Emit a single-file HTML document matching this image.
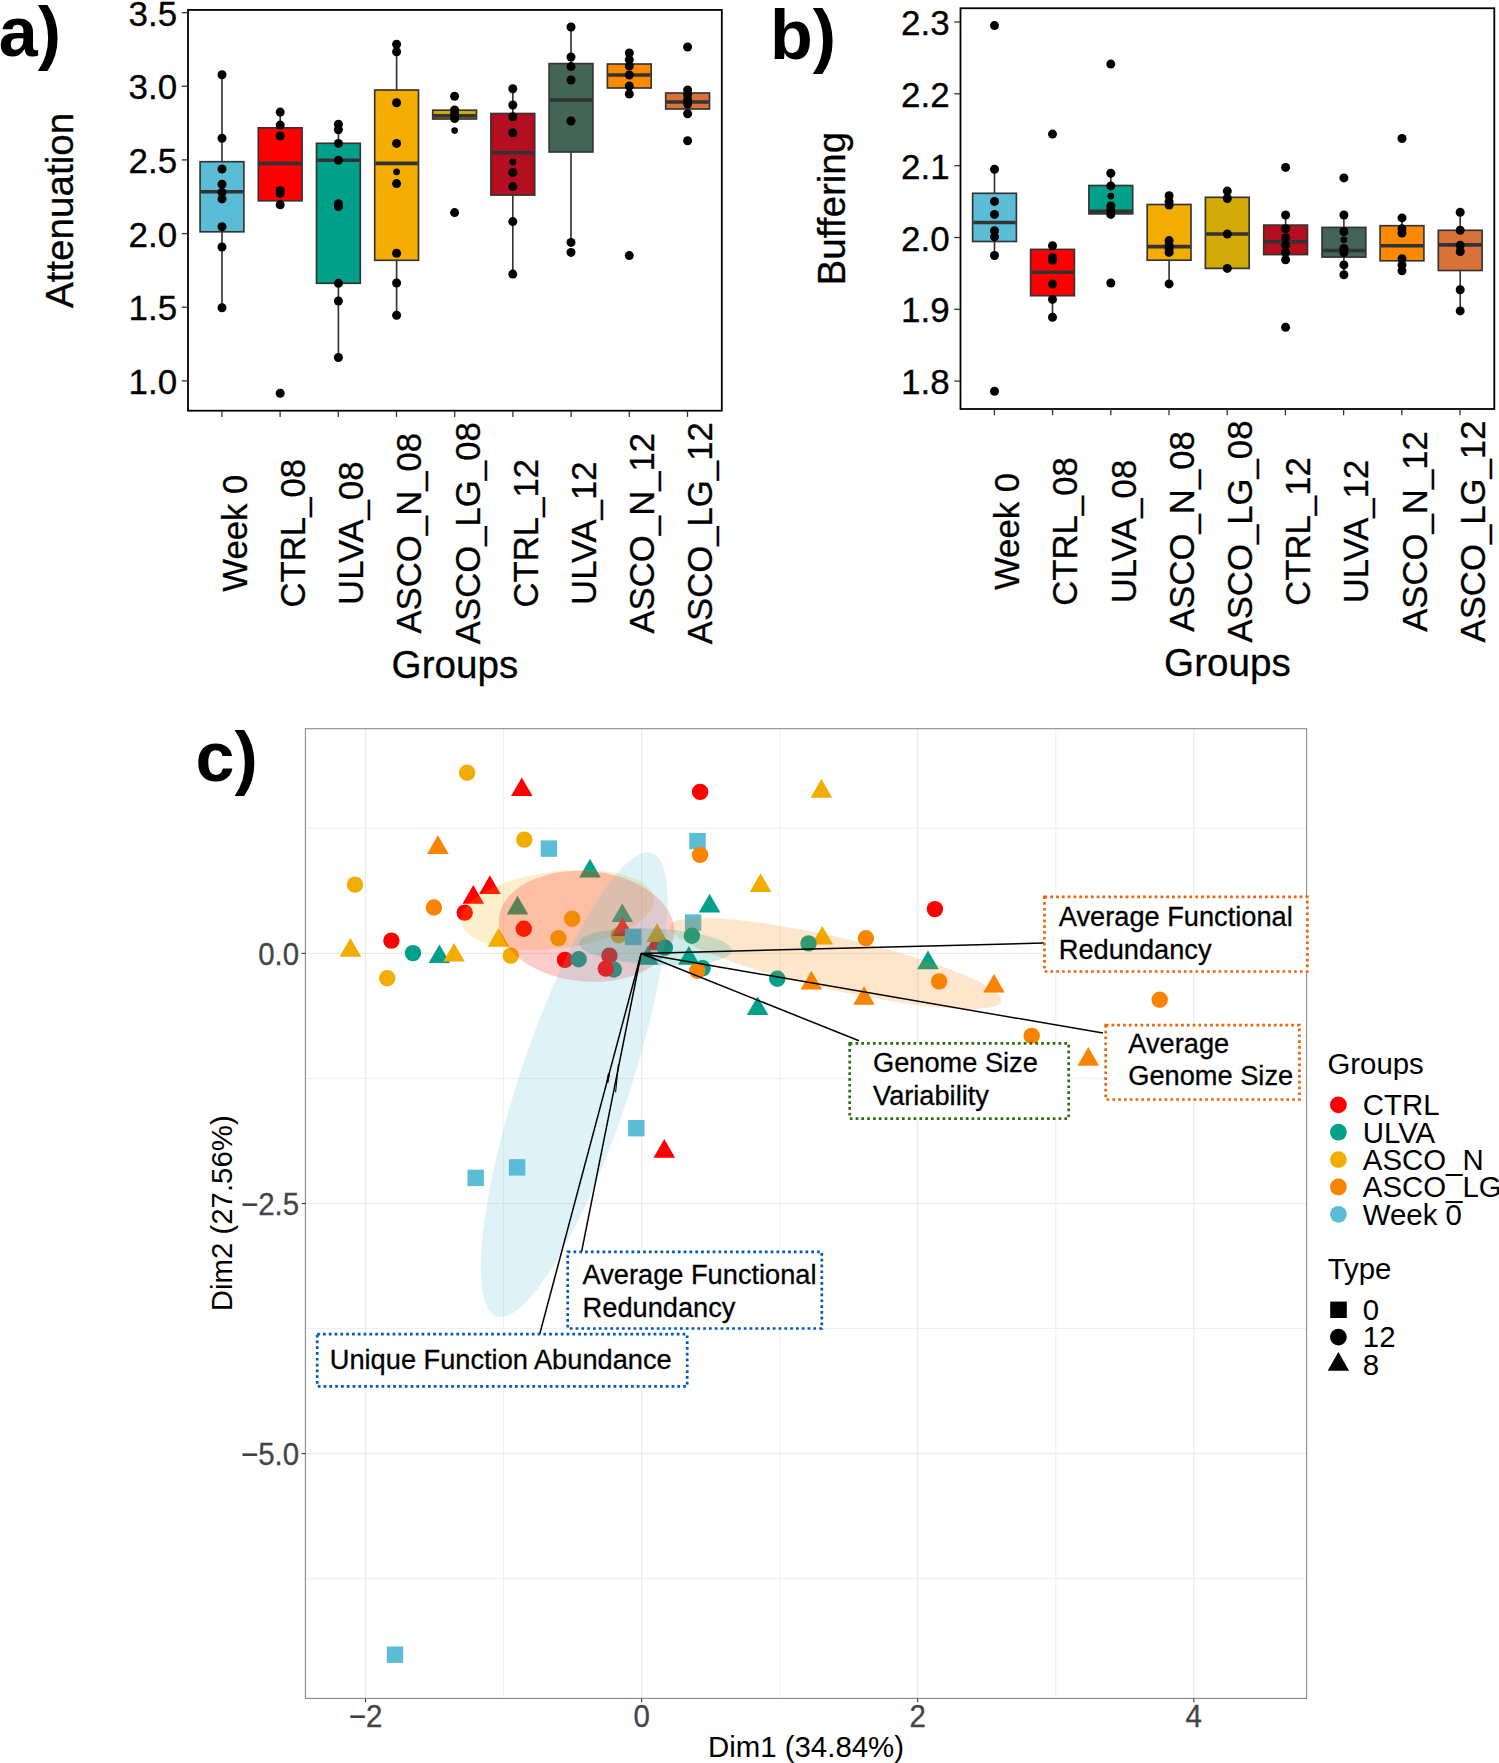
<!DOCTYPE html><html><head><meta charset="utf-8"><style>html,body{margin:0;padding:0;background:#fff;}svg{display:block;}text{font-family:"Liberation Sans", sans-serif;}</style></head><body>
<svg width="1499" height="1763" viewBox="0 0 1499 1763" font-family='"Liberation Sans", sans-serif'>
<rect width="1499" height="1763" fill="#fff"/>
<line x1="222.0" y1="161.7" x2="222.0" y2="74.7" stroke="#333333" stroke-width="1.65"/>
<line x1="222.0" y1="231.8" x2="222.0" y2="307.8" stroke="#333333" stroke-width="1.65"/>
<rect x="200.1" y="161.7" width="43.8" height="70.1" fill="#5BBCD6" stroke="#333333" stroke-width="1.65"/>
<line x1="200.8" y1="191.8" x2="243.2" y2="191.8" stroke="#333333" stroke-width="3.6"/>
<circle cx="222.0" cy="74.7" r="4.5" fill="#000"/>
<circle cx="222.0" cy="138.2" r="4.5" fill="#000"/>
<circle cx="222.0" cy="169.0" r="4.5" fill="#000"/>
<circle cx="222.0" cy="184.3" r="4.5" fill="#000"/>
<circle cx="222.0" cy="192.4" r="4.5" fill="#000"/>
<circle cx="222.0" cy="198.9" r="4.5" fill="#000"/>
<circle cx="222.0" cy="226.7" r="4.5" fill="#000"/>
<circle cx="222.0" cy="247.0" r="4.5" fill="#000"/>
<circle cx="222.0" cy="307.8" r="4.5" fill="#000"/>
<line x1="280.2" y1="127.8" x2="280.2" y2="112.1" stroke="#333333" stroke-width="1.65"/>
<line x1="280.2" y1="200.8" x2="280.2" y2="204.7" stroke="#333333" stroke-width="1.65"/>
<rect x="258.3" y="127.8" width="43.8" height="73.0" fill="#FF0000" stroke="#333333" stroke-width="1.65"/>
<line x1="259.0" y1="163.4" x2="301.4" y2="163.4" stroke="#333333" stroke-width="3.6"/>
<circle cx="280.2" cy="112.1" r="4.5" fill="#000"/>
<circle cx="280.2" cy="125.1" r="4.5" fill="#000"/>
<circle cx="280.2" cy="136.0" r="4.5" fill="#000"/>
<circle cx="280.2" cy="190.5" r="4.5" fill="#000"/>
<circle cx="280.2" cy="193.3" r="4.5" fill="#000"/>
<circle cx="280.2" cy="204.7" r="4.5" fill="#000"/>
<circle cx="280.2" cy="393.3" r="4.5" fill="#000"/>
<line x1="338.4" y1="143.3" x2="338.4" y2="124.2" stroke="#333333" stroke-width="1.65"/>
<line x1="338.4" y1="283.3" x2="338.4" y2="357.5" stroke="#333333" stroke-width="1.65"/>
<rect x="316.5" y="143.3" width="43.8" height="140.0" fill="#00A08A" stroke="#333333" stroke-width="1.65"/>
<line x1="317.2" y1="160.3" x2="359.6" y2="160.3" stroke="#333333" stroke-width="3.6"/>
<circle cx="338.4" cy="124.2" r="4.5" fill="#000"/>
<circle cx="338.4" cy="129.8" r="4.5" fill="#000"/>
<circle cx="338.4" cy="143.4" r="4.5" fill="#000"/>
<circle cx="338.4" cy="160.3" r="4.5" fill="#000"/>
<circle cx="338.4" cy="203.7" r="4.5" fill="#000"/>
<circle cx="338.4" cy="206.5" r="4.5" fill="#000"/>
<circle cx="338.4" cy="283.3" r="4.5" fill="#000"/>
<circle cx="338.4" cy="301.0" r="4.5" fill="#000"/>
<circle cx="338.4" cy="357.5" r="4.5" fill="#000"/>
<line x1="396.6" y1="90.0" x2="396.6" y2="44.3" stroke="#333333" stroke-width="1.65"/>
<line x1="396.6" y1="260.3" x2="396.6" y2="315.2" stroke="#333333" stroke-width="1.65"/>
<rect x="374.7" y="90.0" width="43.8" height="170.3" fill="#F2AD00" stroke="#333333" stroke-width="1.65"/>
<line x1="375.4" y1="163.4" x2="417.8" y2="163.4" stroke="#333333" stroke-width="3.6"/>
<circle cx="396.6" cy="44.3" r="4.5" fill="#000"/>
<circle cx="396.6" cy="51.7" r="4.5" fill="#000"/>
<circle cx="396.6" cy="102.7" r="4.5" fill="#000"/>
<circle cx="396.6" cy="143.4" r="4.5" fill="#000"/>
<circle cx="396.6" cy="171.8" r="3.4" fill="#000"/>
<circle cx="396.6" cy="183.6" r="4.5" fill="#000"/>
<circle cx="396.6" cy="253.2" r="4.5" fill="#000"/>
<circle cx="396.6" cy="283.0" r="4.5" fill="#000"/>
<circle cx="396.6" cy="315.2" r="4.5" fill="#000"/>
<rect x="432.7" y="110.2" width="43.8" height="8.8" fill="#D1AA07" stroke="#333333" stroke-width="1.65"/>
<line x1="433.4" y1="115.9" x2="475.8" y2="115.9" stroke="#333333" stroke-width="3.6"/>
<circle cx="454.6" cy="96.3" r="4.5" fill="#000"/>
<circle cx="454.6" cy="110.0" r="4.5" fill="#000"/>
<circle cx="454.6" cy="114.0" r="4.5" fill="#000"/>
<circle cx="454.6" cy="118.5" r="4.5" fill="#000"/>
<circle cx="454.6" cy="130.6" r="3.3" fill="#000"/>
<circle cx="454.6" cy="212.6" r="4.5" fill="#000"/>
<line x1="512.8" y1="113.5" x2="512.8" y2="88.7" stroke="#333333" stroke-width="1.65"/>
<line x1="512.8" y1="195.1" x2="512.8" y2="274.1" stroke="#333333" stroke-width="1.65"/>
<rect x="490.9" y="113.5" width="43.8" height="81.6" fill="#B40F20" stroke="#333333" stroke-width="1.65"/>
<line x1="491.6" y1="152.7" x2="534.0" y2="152.7" stroke="#333333" stroke-width="3.6"/>
<circle cx="512.8" cy="88.7" r="4.5" fill="#000"/>
<circle cx="512.8" cy="105.0" r="4.5" fill="#000"/>
<circle cx="512.8" cy="116.7" r="4.5" fill="#000"/>
<circle cx="512.8" cy="132.7" r="4.5" fill="#000"/>
<circle cx="512.8" cy="162.0" r="3.4" fill="#000"/>
<circle cx="512.8" cy="172.5" r="4.5" fill="#000"/>
<circle cx="512.8" cy="186.6" r="4.5" fill="#000"/>
<circle cx="512.8" cy="221.6" r="4.5" fill="#000"/>
<circle cx="512.8" cy="274.1" r="4.5" fill="#000"/>
<line x1="571.0" y1="63.6" x2="571.0" y2="27.0" stroke="#333333" stroke-width="1.65"/>
<line x1="571.0" y1="152.0" x2="571.0" y2="242.4" stroke="#333333" stroke-width="1.65"/>
<rect x="549.1" y="63.6" width="43.8" height="88.4" fill="#446455" stroke="#333333" stroke-width="1.65"/>
<line x1="549.8" y1="100.0" x2="592.2" y2="100.0" stroke="#333333" stroke-width="3.6"/>
<circle cx="571.0" cy="27.0" r="4.5" fill="#000"/>
<circle cx="571.0" cy="57.0" r="4.5" fill="#000"/>
<circle cx="571.0" cy="66.6" r="4.5" fill="#000"/>
<circle cx="571.0" cy="80.0" r="4.5" fill="#000"/>
<circle cx="571.0" cy="121.0" r="4.5" fill="#000"/>
<circle cx="571.0" cy="242.4" r="4.5" fill="#000"/>
<circle cx="571.0" cy="252.4" r="4.5" fill="#000"/>
<line x1="629.3" y1="64.0" x2="629.3" y2="53.0" stroke="#333333" stroke-width="1.65"/>
<line x1="629.3" y1="88.0" x2="629.3" y2="94.0" stroke="#333333" stroke-width="1.65"/>
<rect x="607.4" y="64.0" width="43.8" height="24.0" fill="#FB8A00" stroke="#333333" stroke-width="1.65"/>
<line x1="608.1" y1="75.0" x2="650.5" y2="75.0" stroke="#333333" stroke-width="3.6"/>
<circle cx="629.3" cy="53.0" r="4.5" fill="#000"/>
<circle cx="629.3" cy="59.6" r="4.5" fill="#000"/>
<circle cx="629.3" cy="66.0" r="4.5" fill="#000"/>
<circle cx="629.3" cy="75.0" r="4.5" fill="#000"/>
<circle cx="629.3" cy="86.0" r="4.5" fill="#000"/>
<circle cx="629.3" cy="94.0" r="4.5" fill="#000"/>
<circle cx="629.3" cy="255.6" r="4.5" fill="#000"/>
<line x1="687.6" y1="93.0" x2="687.6" y2="90.0" stroke="#333333" stroke-width="1.65"/>
<line x1="687.6" y1="109.0" x2="687.6" y2="113.7" stroke="#333333" stroke-width="1.65"/>
<rect x="665.7" y="93.0" width="43.8" height="16.0" fill="#D97238" stroke="#333333" stroke-width="1.65"/>
<line x1="666.4" y1="102.0" x2="708.8" y2="102.0" stroke="#333333" stroke-width="3.6"/>
<circle cx="687.6" cy="47.0" r="4.5" fill="#000"/>
<circle cx="687.6" cy="90.0" r="4.5" fill="#000"/>
<circle cx="687.6" cy="95.0" r="4.5" fill="#000"/>
<circle cx="687.6" cy="100.0" r="4.5" fill="#000"/>
<circle cx="687.6" cy="104.0" r="4.5" fill="#000"/>
<circle cx="687.6" cy="113.7" r="4.5" fill="#000"/>
<circle cx="687.6" cy="140.7" r="4.5" fill="#000"/>
<rect x="188.0" y="9.95" width="533.80" height="400.75" fill="none" stroke="#000" stroke-width="1.8"/>
<line x1="181.8" y1="12.7" x2="188.0" y2="12.7" stroke="#333" stroke-width="1.3"/>
<text transform="translate(177.20,25.80) scale(0.9850,1)" font-size="35.5" text-anchor="end" stroke="#000" stroke-width="0.3">3.5</text>
<line x1="181.8" y1="86.3" x2="188.0" y2="86.3" stroke="#333" stroke-width="1.3"/>
<text transform="translate(177.20,99.40) scale(0.9850,1)" font-size="35.5" text-anchor="end" stroke="#000" stroke-width="0.3">3.0</text>
<line x1="181.8" y1="159.9" x2="188.0" y2="159.9" stroke="#333" stroke-width="1.3"/>
<text transform="translate(177.20,173.00) scale(0.9850,1)" font-size="35.5" text-anchor="end" stroke="#000" stroke-width="0.3">2.5</text>
<line x1="181.8" y1="233.6" x2="188.0" y2="233.6" stroke="#333" stroke-width="1.3"/>
<text transform="translate(177.20,246.70) scale(0.9850,1)" font-size="35.5" text-anchor="end" stroke="#000" stroke-width="0.3">2.0</text>
<line x1="181.8" y1="307.2" x2="188.0" y2="307.2" stroke="#333" stroke-width="1.3"/>
<text transform="translate(177.20,320.30) scale(0.9850,1)" font-size="35.5" text-anchor="end" stroke="#000" stroke-width="0.3">1.5</text>
<line x1="181.8" y1="380.9" x2="188.0" y2="380.9" stroke="#333" stroke-width="1.3"/>
<text transform="translate(177.20,394.00) scale(0.9850,1)" font-size="35.5" text-anchor="end" stroke="#000" stroke-width="0.3">1.0</text>
<line x1="221.9" y1="410.7" x2="221.9" y2="416.9" stroke="#333" stroke-width="1.3"/>
<text transform="translate(246.70,533.20) rotate(-90) scale(0.9700,1)" font-size="35.8" text-anchor="middle" stroke="#000" stroke-width="0.3">Week 0</text>
<line x1="280.1" y1="410.7" x2="280.1" y2="416.9" stroke="#333" stroke-width="1.3"/>
<text transform="translate(304.90,533.20) rotate(-90) scale(0.9700,1)" font-size="35.8" text-anchor="middle" stroke="#000" stroke-width="0.3">CTRL_08</text>
<line x1="338.3" y1="410.7" x2="338.3" y2="416.9" stroke="#333" stroke-width="1.3"/>
<text transform="translate(363.10,533.20) rotate(-90) scale(0.9700,1)" font-size="35.8" text-anchor="middle" stroke="#000" stroke-width="0.3">ULVA_08</text>
<line x1="396.5" y1="410.7" x2="396.5" y2="416.9" stroke="#333" stroke-width="1.3"/>
<text transform="translate(421.30,533.20) rotate(-90) scale(0.9700,1)" font-size="35.8" text-anchor="middle" stroke="#000" stroke-width="0.3">ASCO_N_08</text>
<line x1="454.7" y1="410.7" x2="454.7" y2="416.9" stroke="#333" stroke-width="1.3"/>
<text transform="translate(479.50,533.20) rotate(-90) scale(0.9700,1)" font-size="35.8" text-anchor="middle" stroke="#000" stroke-width="0.3">ASCO_LG_08</text>
<line x1="512.9" y1="410.7" x2="512.9" y2="416.9" stroke="#333" stroke-width="1.3"/>
<text transform="translate(537.70,533.20) rotate(-90) scale(0.9700,1)" font-size="35.8" text-anchor="middle" stroke="#000" stroke-width="0.3">CTRL_12</text>
<line x1="571.1" y1="410.7" x2="571.1" y2="416.9" stroke="#333" stroke-width="1.3"/>
<text transform="translate(595.90,533.20) rotate(-90) scale(0.9700,1)" font-size="35.8" text-anchor="middle" stroke="#000" stroke-width="0.3">ULVA_12</text>
<line x1="629.3" y1="410.7" x2="629.3" y2="416.9" stroke="#333" stroke-width="1.3"/>
<text transform="translate(654.10,533.20) rotate(-90) scale(0.9700,1)" font-size="35.8" text-anchor="middle" stroke="#000" stroke-width="0.3">ASCO_N_12</text>
<line x1="687.5" y1="410.7" x2="687.5" y2="416.9" stroke="#333" stroke-width="1.3"/>
<text transform="translate(712.30,533.20) rotate(-90) scale(0.9700,1)" font-size="35.8" text-anchor="middle" stroke="#000" stroke-width="0.3">ASCO_LG_12</text>
<text transform="translate(454.90,678.00) scale(0.9930,1)" font-size="38.9" text-anchor="middle" stroke="#000" stroke-width="0.3">Groups</text>
<text transform="translate(72.60,210.40) rotate(-90) scale(0.9930,1)" font-size="38.9" text-anchor="middle" stroke="#000" stroke-width="0.3">Attenuation</text>
<text x="-1.3" y="55.6" font-size="70" font-weight="bold">a)</text>
<line x1="994.5" y1="193.3" x2="994.5" y2="169.2" stroke="#333333" stroke-width="1.65"/>
<line x1="994.5" y1="241.5" x2="994.5" y2="255.5" stroke="#333333" stroke-width="1.65"/>
<rect x="972.6" y="193.3" width="43.8" height="48.2" fill="#5BBCD6" stroke="#333333" stroke-width="1.65"/>
<line x1="973.3" y1="222.5" x2="1015.7" y2="222.5" stroke="#333333" stroke-width="3.6"/>
<circle cx="994.5" cy="25.6" r="4.5" fill="#000"/>
<circle cx="994.5" cy="169.2" r="4.5" fill="#000"/>
<circle cx="994.5" cy="201.4" r="4.5" fill="#000"/>
<circle cx="994.5" cy="214.4" r="4.5" fill="#000"/>
<circle cx="994.5" cy="230.7" r="4.5" fill="#000"/>
<circle cx="994.5" cy="236.9" r="4.5" fill="#000"/>
<circle cx="994.5" cy="255.5" r="4.5" fill="#000"/>
<circle cx="994.5" cy="391.3" r="4.5" fill="#000"/>
<line x1="1052.5" y1="249.4" x2="1052.5" y2="245.8" stroke="#333333" stroke-width="1.65"/>
<line x1="1052.5" y1="295.7" x2="1052.5" y2="317.2" stroke="#333333" stroke-width="1.65"/>
<rect x="1030.6" y="249.4" width="43.8" height="46.3" fill="#FF0000" stroke="#333333" stroke-width="1.65"/>
<line x1="1031.3" y1="272.3" x2="1073.7" y2="272.3" stroke="#333333" stroke-width="3.6"/>
<circle cx="1052.5" cy="134.1" r="4.5" fill="#000"/>
<circle cx="1052.5" cy="245.8" r="4.5" fill="#000"/>
<circle cx="1052.5" cy="257.4" r="4.5" fill="#000"/>
<circle cx="1052.5" cy="260.2" r="4.5" fill="#000"/>
<circle cx="1052.5" cy="284.1" r="4.5" fill="#000"/>
<circle cx="1052.5" cy="299.4" r="4.5" fill="#000"/>
<circle cx="1052.5" cy="317.2" r="4.5" fill="#000"/>
<line x1="1110.8" y1="185.5" x2="1110.8" y2="173.3" stroke="#333333" stroke-width="1.65"/>
<line x1="1110.8" y1="213.9" x2="1110.8" y2="214.4" stroke="#333333" stroke-width="1.65"/>
<rect x="1088.9" y="185.5" width="43.8" height="28.4" fill="#00A08A" stroke="#333333" stroke-width="1.65"/>
<line x1="1089.6" y1="211.3" x2="1132.0" y2="211.3" stroke="#333333" stroke-width="3.6"/>
<circle cx="1110.8" cy="64.1" r="4.5" fill="#000"/>
<circle cx="1110.8" cy="173.3" r="4.5" fill="#000"/>
<circle cx="1110.8" cy="185.9" r="4.5" fill="#000"/>
<circle cx="1110.8" cy="196.1" r="3.4" fill="#000"/>
<circle cx="1110.8" cy="206.0" r="4.5" fill="#000"/>
<circle cx="1110.8" cy="209.8" r="4.5" fill="#000"/>
<circle cx="1110.8" cy="214.4" r="4.5" fill="#000"/>
<circle cx="1110.8" cy="283.0" r="4.5" fill="#000"/>
<line x1="1169.1" y1="204.5" x2="1169.1" y2="195.8" stroke="#333333" stroke-width="1.65"/>
<line x1="1169.1" y1="260.2" x2="1169.1" y2="283.9" stroke="#333333" stroke-width="1.65"/>
<rect x="1147.2" y="204.5" width="43.8" height="55.7" fill="#F2AD00" stroke="#333333" stroke-width="1.65"/>
<line x1="1147.9" y1="246.6" x2="1190.3" y2="246.6" stroke="#333333" stroke-width="3.6"/>
<circle cx="1169.1" cy="195.8" r="4.5" fill="#000"/>
<circle cx="1169.1" cy="201.4" r="4.5" fill="#000"/>
<circle cx="1169.1" cy="205.1" r="4.5" fill="#000"/>
<circle cx="1169.1" cy="240.6" r="4.5" fill="#000"/>
<circle cx="1169.1" cy="245.3" r="4.5" fill="#000"/>
<circle cx="1169.1" cy="249.0" r="4.5" fill="#000"/>
<circle cx="1169.1" cy="252.4" r="4.5" fill="#000"/>
<circle cx="1169.1" cy="283.9" r="4.5" fill="#000"/>
<line x1="1227.3" y1="197.3" x2="1227.3" y2="191.1" stroke="#333333" stroke-width="1.65"/>
<line x1="1227.3" y1="268.4" x2="1227.3" y2="268.4" stroke="#333333" stroke-width="1.65"/>
<rect x="1205.4" y="197.3" width="43.8" height="71.1" fill="#D1AA07" stroke="#333333" stroke-width="1.65"/>
<line x1="1206.1" y1="234.0" x2="1248.5" y2="234.0" stroke="#333333" stroke-width="3.6"/>
<circle cx="1227.3" cy="191.1" r="4.5" fill="#000"/>
<circle cx="1227.3" cy="198.5" r="4.5" fill="#000"/>
<circle cx="1227.3" cy="234.0" r="4.5" fill="#000"/>
<circle cx="1227.3" cy="268.4" r="4.5" fill="#000"/>
<line x1="1285.6" y1="225.1" x2="1285.6" y2="215.0" stroke="#333333" stroke-width="1.65"/>
<line x1="1285.6" y1="254.6" x2="1285.6" y2="259.8" stroke="#333333" stroke-width="1.65"/>
<rect x="1263.7" y="225.1" width="43.8" height="29.5" fill="#B40F20" stroke="#333333" stroke-width="1.65"/>
<line x1="1264.4" y1="241.8" x2="1306.8" y2="241.8" stroke="#333333" stroke-width="3.6"/>
<circle cx="1285.6" cy="167.4" r="4.5" fill="#000"/>
<circle cx="1285.6" cy="215.0" r="4.5" fill="#000"/>
<circle cx="1285.6" cy="228.8" r="4.5" fill="#000"/>
<circle cx="1285.6" cy="237.7" r="4.5" fill="#000"/>
<circle cx="1285.6" cy="245.3" r="4.5" fill="#000"/>
<circle cx="1285.6" cy="252.5" r="4.5" fill="#000"/>
<circle cx="1285.6" cy="259.8" r="4.5" fill="#000"/>
<circle cx="1285.6" cy="327.2" r="4.5" fill="#000"/>
<line x1="1343.9" y1="227.4" x2="1343.9" y2="215.0" stroke="#333333" stroke-width="1.65"/>
<line x1="1343.9" y1="257.1" x2="1343.9" y2="274.8" stroke="#333333" stroke-width="1.65"/>
<rect x="1322.0" y="227.4" width="43.8" height="29.7" fill="#446455" stroke="#333333" stroke-width="1.65"/>
<line x1="1322.7" y1="250.5" x2="1365.1" y2="250.5" stroke="#333333" stroke-width="3.6"/>
<circle cx="1343.9" cy="177.9" r="4.5" fill="#000"/>
<circle cx="1343.9" cy="215.0" r="4.5" fill="#000"/>
<circle cx="1343.9" cy="231.5" r="4.5" fill="#000"/>
<circle cx="1343.9" cy="239.8" r="3.4" fill="#000"/>
<circle cx="1343.9" cy="248.4" r="4.5" fill="#000"/>
<circle cx="1343.9" cy="252.5" r="4.5" fill="#000"/>
<circle cx="1343.9" cy="264.9" r="4.5" fill="#000"/>
<circle cx="1343.9" cy="274.8" r="4.5" fill="#000"/>
<line x1="1402.0" y1="225.7" x2="1402.0" y2="217.9" stroke="#333333" stroke-width="1.65"/>
<line x1="1402.0" y1="260.8" x2="1402.0" y2="270.7" stroke="#333333" stroke-width="1.65"/>
<rect x="1380.1" y="225.7" width="43.8" height="35.1" fill="#FB8A00" stroke="#333333" stroke-width="1.65"/>
<line x1="1380.8" y1="245.7" x2="1423.2" y2="245.7" stroke="#333333" stroke-width="3.6"/>
<circle cx="1402.0" cy="138.5" r="4.5" fill="#000"/>
<circle cx="1402.0" cy="217.9" r="4.5" fill="#000"/>
<circle cx="1402.0" cy="228.8" r="4.5" fill="#000"/>
<circle cx="1402.0" cy="233.0" r="4.5" fill="#000"/>
<circle cx="1402.0" cy="258.7" r="4.5" fill="#000"/>
<circle cx="1402.0" cy="264.9" r="4.5" fill="#000"/>
<circle cx="1402.0" cy="270.7" r="4.5" fill="#000"/>
<line x1="1460.2" y1="230.3" x2="1460.2" y2="212.3" stroke="#333333" stroke-width="1.65"/>
<line x1="1460.2" y1="270.5" x2="1460.2" y2="310.9" stroke="#333333" stroke-width="1.65"/>
<rect x="1438.3" y="230.3" width="43.8" height="40.2" fill="#D97238" stroke="#333333" stroke-width="1.65"/>
<line x1="1439.0" y1="244.9" x2="1481.4" y2="244.9" stroke="#333333" stroke-width="3.6"/>
<circle cx="1460.2" cy="212.3" r="4.5" fill="#000"/>
<circle cx="1460.2" cy="230.3" r="4.5" fill="#000"/>
<circle cx="1460.2" cy="245.3" r="4.5" fill="#000"/>
<circle cx="1460.2" cy="251.5" r="4.5" fill="#000"/>
<circle cx="1460.2" cy="289.7" r="4.5" fill="#000"/>
<circle cx="1460.2" cy="310.9" r="4.5" fill="#000"/>
<rect x="960.5" y="8.25" width="533.80" height="400.75" fill="none" stroke="#000" stroke-width="1.8"/>
<line x1="954.3" y1="22.0" x2="960.5" y2="22.0" stroke="#333" stroke-width="1.3"/>
<text transform="translate(949.70,35.10) scale(0.9850,1)" font-size="35.5" text-anchor="end" stroke="#000" stroke-width="0.3">2.3</text>
<line x1="954.3" y1="93.8" x2="960.5" y2="93.8" stroke="#333" stroke-width="1.3"/>
<text transform="translate(949.70,106.90) scale(0.9850,1)" font-size="35.5" text-anchor="end" stroke="#000" stroke-width="0.3">2.2</text>
<line x1="954.3" y1="165.7" x2="960.5" y2="165.7" stroke="#333" stroke-width="1.3"/>
<text transform="translate(949.70,178.80) scale(0.9850,1)" font-size="35.5" text-anchor="end" stroke="#000" stroke-width="0.3">2.1</text>
<line x1="954.3" y1="237.5" x2="960.5" y2="237.5" stroke="#333" stroke-width="1.3"/>
<text transform="translate(949.70,250.60) scale(0.9850,1)" font-size="35.5" text-anchor="end" stroke="#000" stroke-width="0.3">2.0</text>
<line x1="954.3" y1="309.3" x2="960.5" y2="309.3" stroke="#333" stroke-width="1.3"/>
<text transform="translate(949.70,322.40) scale(0.9850,1)" font-size="35.5" text-anchor="end" stroke="#000" stroke-width="0.3">1.9</text>
<line x1="954.3" y1="381.1" x2="960.5" y2="381.1" stroke="#333" stroke-width="1.3"/>
<text transform="translate(949.70,394.20) scale(0.9850,1)" font-size="35.5" text-anchor="end" stroke="#000" stroke-width="0.3">1.8</text>
<line x1="994.4" y1="409.0" x2="994.4" y2="415.2" stroke="#333" stroke-width="1.3"/>
<text transform="translate(1019.20,531.50) rotate(-90) scale(0.9700,1)" font-size="35.8" text-anchor="middle" stroke="#000" stroke-width="0.3">Week 0</text>
<line x1="1052.6" y1="409.0" x2="1052.6" y2="415.2" stroke="#333" stroke-width="1.3"/>
<text transform="translate(1077.40,531.50) rotate(-90) scale(0.9700,1)" font-size="35.8" text-anchor="middle" stroke="#000" stroke-width="0.3">CTRL_08</text>
<line x1="1110.8" y1="409.0" x2="1110.8" y2="415.2" stroke="#333" stroke-width="1.3"/>
<text transform="translate(1135.60,531.50) rotate(-90) scale(0.9700,1)" font-size="35.8" text-anchor="middle" stroke="#000" stroke-width="0.3">ULVA_08</text>
<line x1="1169.0" y1="409.0" x2="1169.0" y2="415.2" stroke="#333" stroke-width="1.3"/>
<text transform="translate(1193.80,531.50) rotate(-90) scale(0.9700,1)" font-size="35.8" text-anchor="middle" stroke="#000" stroke-width="0.3">ASCO_N_08</text>
<line x1="1227.2" y1="409.0" x2="1227.2" y2="415.2" stroke="#333" stroke-width="1.3"/>
<text transform="translate(1252.00,531.50) rotate(-90) scale(0.9700,1)" font-size="35.8" text-anchor="middle" stroke="#000" stroke-width="0.3">ASCO_LG_08</text>
<line x1="1285.4" y1="409.0" x2="1285.4" y2="415.2" stroke="#333" stroke-width="1.3"/>
<text transform="translate(1310.20,531.50) rotate(-90) scale(0.9700,1)" font-size="35.8" text-anchor="middle" stroke="#000" stroke-width="0.3">CTRL_12</text>
<line x1="1343.6" y1="409.0" x2="1343.6" y2="415.2" stroke="#333" stroke-width="1.3"/>
<text transform="translate(1368.40,531.50) rotate(-90) scale(0.9700,1)" font-size="35.8" text-anchor="middle" stroke="#000" stroke-width="0.3">ULVA_12</text>
<line x1="1401.8" y1="409.0" x2="1401.8" y2="415.2" stroke="#333" stroke-width="1.3"/>
<text transform="translate(1426.60,531.50) rotate(-90) scale(0.9700,1)" font-size="35.8" text-anchor="middle" stroke="#000" stroke-width="0.3">ASCO_N_12</text>
<line x1="1460.0" y1="409.0" x2="1460.0" y2="415.2" stroke="#333" stroke-width="1.3"/>
<text transform="translate(1484.80,531.50) rotate(-90) scale(0.9700,1)" font-size="35.8" text-anchor="middle" stroke="#000" stroke-width="0.3">ASCO_LG_12</text>
<text transform="translate(1227.40,676.30) scale(0.9930,1)" font-size="38.9" text-anchor="middle" stroke="#000" stroke-width="0.3">Groups</text>
<text transform="translate(845.40,208.60) rotate(-90) scale(0.9930,1)" font-size="38.9" text-anchor="middle" stroke="#000" stroke-width="0.3">Buffering</text>
<text x="770.0" y="58.6" font-size="70" font-weight="bold">b)</text>
<g stroke="#EBEBEB">
<line x1="503.6" y1="728.7" x2="503.6" y2="1698.4" stroke-width="0.8"/>
<line x1="779.7" y1="728.7" x2="779.7" y2="1698.4" stroke-width="0.8"/>
<line x1="1055.8" y1="728.7" x2="1055.8" y2="1698.4" stroke-width="0.8"/>
<line x1="305.4" y1="828.3" x2="1306.6" y2="828.3" stroke-width="0.8"/>
<line x1="305.4" y1="1078.5" x2="1306.6" y2="1078.5" stroke-width="0.8"/>
<line x1="305.4" y1="1328.5" x2="1306.6" y2="1328.5" stroke-width="0.8"/>
<line x1="305.4" y1="1578.7" x2="1306.6" y2="1578.7" stroke-width="0.8"/>
<line x1="365.5" y1="728.7" x2="365.5" y2="1698.4" stroke-width="1.2"/>
<line x1="641.6" y1="728.7" x2="641.6" y2="1698.4" stroke-width="1.2"/>
<line x1="917.7" y1="728.7" x2="917.7" y2="1698.4" stroke-width="1.2"/>
<line x1="1193.8" y1="728.7" x2="1193.8" y2="1698.4" stroke-width="1.2"/>
<line x1="305.4" y1="953.4" x2="1306.6" y2="953.4" stroke-width="1.2"/>
<line x1="305.4" y1="1203.5" x2="1306.6" y2="1203.5" stroke-width="1.2"/>
<line x1="305.4" y1="1453.6" x2="1306.6" y2="1453.6" stroke-width="1.2"/>
</g>
<circle cx="467.1" cy="772.7" r="8.2" fill="#F2AD00"/>
<path d="M521.8 777.4L532.6 796.1L511.0 796.1Z" fill="#FF0000"/>
<circle cx="524.3" cy="839.6" r="8.2" fill="#F2AD00"/>
<rect x="540.7" y="840.4" width="16.4" height="16.4" fill="#5BBCD6"/>
<path d="M437.9 835.2L448.7 853.9L427.1 853.9Z" fill="#F98400"/>
<circle cx="355.0" cy="884.6" r="8.2" fill="#F2AD00"/>
<circle cx="433.9" cy="907.5" r="8.2" fill="#F98400"/>
<path d="M489.9 875.3L500.7 894.0L479.1 894.0Z" fill="#FF0000"/>
<path d="M473.3 885.0L484.1 903.7L462.5 903.7Z" fill="#FF0000"/>
<circle cx="464.7" cy="912.6" r="8.2" fill="#FF0000"/>
<path d="M517.5 895.7L528.3 914.4L506.7 914.4Z" fill="#00A08A"/>
<circle cx="523.8" cy="928.7" r="8.2" fill="#FF0000"/>
<circle cx="700.1" cy="791.9" r="8.2" fill="#FF0000"/>
<rect x="689.3" y="832.9" width="16.4" height="16.4" fill="#5BBCD6"/>
<circle cx="700.1" cy="854.9" r="8.2" fill="#F98400"/>
<path d="M590.0 858.8L600.8 877.5L579.2 877.5Z" fill="#00A08A"/>
<path d="M760.6 873.3L771.4 892.0L749.8 892.0Z" fill="#F2AD00"/>
<path d="M709.6 893.7L720.4 912.4L698.8 912.4Z" fill="#00A08A"/>
<circle cx="572.1" cy="918.7" r="8.2" fill="#F2AD00"/>
<path d="M622.3 903.4L633.1 922.1L611.5 922.1Z" fill="#00A08A"/>
<rect x="684.9" y="914.4" width="16.4" height="16.4" fill="#5BBCD6"/>
<path d="M821.4 779.0L832.2 797.7L810.6 797.7Z" fill="#F2AD00"/>
<circle cx="934.9" cy="909.1" r="8.2" fill="#FF0000"/>
<path d="M498.5 928.0L509.3 946.7L487.7 946.7Z" fill="#F2AD00"/>
<circle cx="558.4" cy="938.2" r="8.2" fill="#F2AD00"/>
<path d="M350.4 938.0L361.2 956.7L339.6 956.7Z" fill="#F2AD00"/>
<circle cx="391.4" cy="940.6" r="8.2" fill="#FF0000"/>
<circle cx="413.0" cy="953.1" r="8.2" fill="#00A08A"/>
<path d="M439.4 944.4L450.2 963.1L428.6 963.1Z" fill="#00A08A"/>
<path d="M454.0 942.9L464.8 961.6L443.2 961.6Z" fill="#F2AD00"/>
<circle cx="510.8" cy="955.6" r="8.2" fill="#F2AD00"/>
<circle cx="387.2" cy="978.2" r="8.2" fill="#F2AD00"/>
<circle cx="565.0" cy="959.9" r="8.2" fill="#FF0000"/>
<circle cx="618.7" cy="935.2" r="8.2" fill="#F2AD00"/>
<path d="M622.5 917.2L633.3 935.9L611.7 935.9Z" fill="#FF0000"/>
<rect x="624.9" y="928.7" width="16.4" height="16.4" fill="#5BBCD6"/>
<path d="M657.0 931.6L667.8 950.3L646.2 950.3Z" fill="#FF0000"/>
<path d="M657.1 923.2L667.9 941.9L646.3 941.9Z" fill="#F2AD00"/>
<circle cx="664.9" cy="947.8" r="8.2" fill="#00A08A"/>
<path d="M647.7 946.0L658.5 964.7L636.9 964.7Z" fill="#00A08A"/>
<circle cx="691.9" cy="935.8" r="8.2" fill="#00A08A"/>
<path d="M688.9 946.0L699.7 964.7L678.1 964.7Z" fill="#00A08A"/>
<circle cx="702.7" cy="968.3" r="8.2" fill="#00A08A"/>
<circle cx="697.3" cy="970.7" r="8.2" fill="#F98400"/>
<circle cx="578.7" cy="959.3" r="8.2" fill="#00A08A"/>
<circle cx="609.4" cy="955.6" r="8.2" fill="#FF0000"/>
<circle cx="613.8" cy="969.5" r="8.2" fill="#00A08A"/>
<circle cx="605.8" cy="968.6" r="8.2" fill="#FF0000"/>
<path d="M822.3 925.9L833.1 944.6L811.5 944.6Z" fill="#F2AD00"/>
<circle cx="808.5" cy="943.4" r="8.2" fill="#00A08A"/>
<circle cx="865.9" cy="938.3" r="8.2" fill="#F98400"/>
<path d="M928.0 950.5L938.8 969.2L917.2 969.2Z" fill="#00A08A"/>
<circle cx="777.3" cy="978.8" r="8.2" fill="#00A08A"/>
<path d="M811.4 970.7L822.2 989.4L800.6 989.4Z" fill="#F98400"/>
<circle cx="939.1" cy="981.4" r="8.2" fill="#F98400"/>
<path d="M994.0 973.9L1004.8 992.6L983.2 992.6Z" fill="#F98400"/>
<path d="M864.0 986.1L874.8 1004.8L853.2 1004.8Z" fill="#F98400"/>
<path d="M757.6 996.4L768.4 1015.1L746.8 1015.1Z" fill="#00A08A"/>
<circle cx="1159.7" cy="999.7" r="8.2" fill="#F98400"/>
<circle cx="1031.7" cy="1035.9" r="8.2" fill="#F98400"/>
<path d="M1088.3 1047.1L1099.1 1065.8L1077.5 1065.8Z" fill="#F98400"/>
<rect x="467.5" y="1169.7" width="16.4" height="16.4" fill="#5BBCD6"/>
<rect x="508.9" y="1159.2" width="16.4" height="16.4" fill="#5BBCD6"/>
<rect x="628.1" y="1120.0" width="16.4" height="16.4" fill="#5BBCD6"/>
<path d="M664.3 1139.0L675.1 1157.7L653.5 1157.7Z" fill="#FF0000"/>
<rect x="386.8" y="1646.5" width="16.4" height="16.4" fill="#5BBCD6"/>
<ellipse cx="0" cy="0" rx="97.0" ry="38.5" transform="translate(557.4,909.9) rotate(-7.0)" fill="#F2AD00" fill-opacity="0.2"/>
<ellipse cx="0" cy="0" rx="88.0" ry="55.2" transform="translate(586.4,926.3) rotate(4.9)" fill="#FF0000" fill-opacity="0.2"/>
<ellipse cx="0" cy="0" rx="170.0" ry="26.3" transform="translate(835.5,963.5) rotate(12.8)" fill="#F98400" fill-opacity="0.2"/>
<ellipse cx="0" cy="0" rx="244.3" ry="54.9" transform="translate(574.2,1084.7) rotate(-71.5)" fill="#5BBCD6" fill-opacity="0.2"/>
<ellipse cx="0" cy="0" rx="76.6" ry="18.1" transform="translate(655.6,946.8) rotate(2.85)" fill="#00A08A" fill-opacity="0.2"/>
<line x1="641.2" y1="953.5" x2="1044" y2="943.0" stroke="#000" stroke-width="1.5"/>
<line x1="641.2" y1="953.5" x2="1103" y2="1033.1" stroke="#000" stroke-width="1.5"/>
<line x1="641.2" y1="953.5" x2="859" y2="1040.8" stroke="#000" stroke-width="1.5"/>
<line x1="641.2" y1="953.5" x2="539.8" y2="1333.7" stroke="#000" stroke-width="1.5"/>
<line x1="641.2" y1="953.5" x2="581.6" y2="1251.6" stroke="#000" stroke-width="1.5"/>
<line x1="609.0" y1="1073.4" x2="607.4" y2="1082.5" stroke="#000" stroke-width="2.2"/>
<line x1="618.4" y1="1064.4" x2="615.6" y2="1092.3" stroke="#000" stroke-width="1.1"/>
<rect x="305.4" y="728.7" width="1001.2" height="969.7" fill="none" stroke="#8a8a8a" stroke-width="1.1"/>
<line x1="301.6" y1="953.4" x2="305.4" y2="953.4" stroke="#333" stroke-width="1.1"/>
<text transform="translate(299.10,964.80) scale(0.9500,1)" font-size="31.0" text-anchor="end" fill="#444" stroke="#444" stroke-width="0.3">0.0</text>
<line x1="301.6" y1="1203.5" x2="305.4" y2="1203.5" stroke="#333" stroke-width="1.1"/>
<text transform="translate(299.10,1214.90) scale(0.9500,1)" font-size="31.0" text-anchor="end" fill="#444" stroke="#444" stroke-width="0.3">−2.5</text>
<line x1="301.6" y1="1453.6" x2="305.4" y2="1453.6" stroke="#333" stroke-width="1.1"/>
<text transform="translate(299.10,1465.00) scale(0.9500,1)" font-size="31.0" text-anchor="end" fill="#444" stroke="#444" stroke-width="0.3">−5.0</text>
<line x1="365.5" y1="1698.4" x2="365.5" y2="1702.2" stroke="#333" stroke-width="1.1"/>
<text transform="translate(365.50,1727.20) scale(0.9500,1)" font-size="31.0" text-anchor="middle" fill="#444" stroke="#444" stroke-width="0.3">−2</text>
<line x1="641.6" y1="1698.4" x2="641.6" y2="1702.2" stroke="#333" stroke-width="1.1"/>
<text transform="translate(641.60,1727.20) scale(0.9500,1)" font-size="31.0" text-anchor="middle" fill="#444" stroke="#444" stroke-width="0.3">0</text>
<line x1="917.7" y1="1698.4" x2="917.7" y2="1702.2" stroke="#333" stroke-width="1.1"/>
<text transform="translate(917.70,1727.20) scale(0.9500,1)" font-size="31.0" text-anchor="middle" fill="#444" stroke="#444" stroke-width="0.3">2</text>
<line x1="1193.8" y1="1698.4" x2="1193.8" y2="1702.2" stroke="#333" stroke-width="1.1"/>
<text transform="translate(1193.80,1727.20) scale(0.9500,1)" font-size="31.0" text-anchor="middle" fill="#444" stroke="#444" stroke-width="0.3">4</text>
<text x="806.0" y="1756.6" font-size="29.4" text-anchor="middle">Dim1 (34.84%)</text>
<text transform="translate(232.4,1213.3) rotate(-90)" font-size="29.4" text-anchor="middle">Dim2 (27.56%)</text>
<text x="195.5" y="780.5" font-size="70" font-weight="bold">c)</text>
<rect x="1044.5" y="896.8" width="262.8" height="74.7" fill="#fff" stroke="#E8650C" stroke-width="2.7" stroke-dasharray="2.7 3.1"/>
<text transform="translate(1058.80,926.40) scale(0.9650,1)" font-size="28.2" stroke="#000" stroke-width="0.3">Average Functional</text>
<text transform="translate(1058.80,959.00) scale(0.9650,1)" font-size="28.2" stroke="#000" stroke-width="0.3">Redundancy</text>
<rect x="1105.7" y="1025.1" width="193.7" height="74.4" fill="#fff" stroke="#E8650C" stroke-width="2.7" stroke-dasharray="2.7 3.1"/>
<text transform="translate(1128.30,1052.80) scale(0.9650,1)" font-size="28.2" stroke="#000" stroke-width="0.3">Average</text>
<text transform="translate(1128.30,1084.80) scale(0.9650,1)" font-size="28.2" stroke="#000" stroke-width="0.3">Genome Size</text>
<rect x="849.7" y="1043.4" width="219.0" height="75.2" fill="#fff" stroke="#2E6B10" stroke-width="2.7" stroke-dasharray="2.7 3.1"/>
<text transform="translate(873.00,1072.40) scale(0.9650,1)" font-size="28.2" stroke="#000" stroke-width="0.3">Genome Size</text>
<text transform="translate(873.00,1105.00) scale(0.9650,1)" font-size="28.2" stroke="#000" stroke-width="0.3">Variability</text>
<rect x="567.7" y="1251.9" width="254.1" height="76.6" fill="#fff" stroke="#0058B8" stroke-width="2.7" stroke-dasharray="2.7 3.1"/>
<text transform="translate(582.60,1284.20) scale(0.9650,1)" font-size="28.2" stroke="#000" stroke-width="0.3">Average Functional</text>
<text transform="translate(582.60,1316.60) scale(0.9650,1)" font-size="28.2" stroke="#000" stroke-width="0.3">Redundancy</text>
<rect x="317.2" y="1334.2" width="370.0" height="52.1" fill="#fff" stroke="#0058B8" stroke-width="2.7" stroke-dasharray="2.7 3.1"/>
<text transform="translate(329.80,1368.90) scale(0.9650,1)" font-size="28.2" stroke="#000" stroke-width="0.3">Unique Function Abundance</text>
<text x="1327.4" y="1073.8" font-size="29.4">Groups</text>
<circle cx="1338.4" cy="1104.9" r="8.4" fill="#FF0000"/>
<text x="1362.8" y="1115.3" font-size="29.4">CTRL</text>
<circle cx="1338.4" cy="1132.2" r="8.4" fill="#00A08A"/>
<text x="1362.8" y="1142.7" font-size="29.4">ULVA</text>
<circle cx="1338.4" cy="1159.6" r="8.4" fill="#F2AD00"/>
<text x="1362.8" y="1170.0" font-size="29.4">ASCO_N</text>
<circle cx="1338.4" cy="1187.0" r="8.4" fill="#F98400"/>
<text x="1362.8" y="1197.4" font-size="29.4">ASCO_LG</text>
<circle cx="1338.4" cy="1214.3" r="8.4" fill="#5BBCD6"/>
<text x="1362.8" y="1224.7" font-size="29.4">Week 0</text>
<text x="1327.7" y="1278.6" font-size="29.4">Type</text>
<rect x="1330.2" y="1301.6" width="16.6" height="16.4" fill="#000"/>
<circle cx="1338.4" cy="1337.1" r="8.4" fill="#000"/>
<path d="M1338.4 1352L1349.1 1370.8L1327.7 1370.8Z" fill="#000"/>
<text x="1362.8" y="1319.9" font-size="29.4">0</text>
<text x="1362.8" y="1347.4" font-size="29.4">12</text>
<text x="1362.8" y="1374.7" font-size="29.4">8</text>
</svg></body></html>
